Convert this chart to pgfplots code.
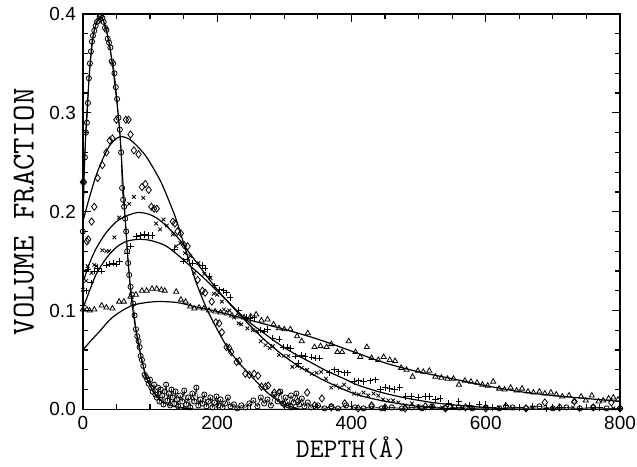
\documentclass[border=0pt]{standalone}
\usepackage{fontspec}
\setmainfont{Liberation Sans}
\usepackage{pgfplots}
\pgfplotsset{compat=1.18}

\begin{document}
\begin{tikzpicture}
\begin{axis}[
    scale only axis,
    width=269pt, height=198pt,
    xmin=0, xmax=800, ymin=0, ymax=0.4,
    xtick={0,200,400,600,800},
    ytick={0,0.1,0.2,0.3,0.4},
    minor x tick num=3, minor y tick num=4,
    tick align=inside,
    major tick length=4pt, minor tick length=2.5pt,
    axis line style={line width=0.8pt},
    every tick/.style={black, line width=0.6pt},
    /pgf/number format/assume math mode=true,
    yticklabel style={/pgf/number format/.cd, fixed, fixed zerofill, precision=1},
    tick label style={font=\fontsize{9.5}{11}\selectfont},
    xlabel={DEPTH(Å)},
    ylabel={VOLUME FRACTION},
    every axis x label/.style={at={(axis description cs:0.5,-0.098)}, anchor=center,
        font=\fontsize{13.5}{15}\selectfont\ttfamily},
    every axis y label/.style={at={(axis description cs:-0.11,0.5)}, rotate=90, anchor=center,
        font=\fontsize{16}{18}\selectfont\ttfamily},
]

% fitted profiles
\addplot[black, line width=0.6pt, smooth, tension=0.45] coordinates {
    (0,0.18) (2,0.24) (4,0.275) (6,0.3) (8,0.322) (10,0.342) (13,0.364) (16,0.38)
    (20,0.391) (25,0.397) (30,0.394) (35,0.384) (40,0.367) (45,0.344) (50,0.315)
    (54,0.288) (57,0.26) (60,0.225) (63,0.193) (66,0.163) (69,0.136) (72,0.115)
    (75,0.098) (79,0.08) (83,0.065) (88,0.049) (93,0.036) (100,0.024) (110,0.013)
    (120,0.007) (135,0.003) (160,0.001) (200,0) (800,0)
};
\addplot[black, line width=0.6pt, smooth, tension=0.5] coordinates {
    (0,0.19) (10,0.215) (20,0.237) (30,0.254) (40,0.267) (50,0.274) (58,0.276)
    (70,0.273) (80,0.267) (93,0.257) (105,0.244) (117,0.229) (130,0.208) (140,0.19)
    (156,0.155) (170,0.126) (185,0.101) (200,0.081) (214,0.064) (230,0.049)
    (253,0.032) (270,0.02) (282,0.013) (300,0.005) (320,0.001) (340,0) (800,0)
};
\addplot[black, line width=0.6pt, smooth, tension=0.5] coordinates {
    (0,0.128) (10,0.148) (20,0.163) (35,0.179) (54,0.192) (80,0.199) (100,0.197)
    (117,0.19) (141,0.174) (160,0.157) (180,0.139) (204,0.118) (243,0.089)
    (268,0.072) (292,0.058) (316,0.046) (341,0.036) (360,0.029) (389,0.02)
    (408,0.015) (430,0.011) (460,0.007) (500,0.003) (540,0.001) (600,0) (800,0)
};
\addplot[black, line width=0.6pt, smooth, tension=0.5] coordinates {
    (0,0.102) (10,0.12) (20,0.137) (35,0.153) (50,0.164) (65,0.17) (83,0.172)
    (100,0.171) (122,0.166) (140,0.157) (160,0.145) (180,0.133) (204,0.117)
    (243,0.091) (268,0.078) (292,0.066) (316,0.056) (341,0.047) (360,0.04)
    (389,0.031) (408,0.025) (440,0.018) (477,0.012) (520,0.007) (560,0.004)
    (600,0.002) (650,0) (800,0)
};
\addplot[black, line width=0.6pt, smooth, tension=0.5] coordinates {
    (0,0.06) (10,0.068) (25,0.079) (44,0.093) (73,0.105) (108,0.109) (141,0.108)
    (166,0.104) (200,0.099) (250,0.09) (300,0.081) (350,0.071) (400,0.059)
    (450,0.047) (500,0.038) (550,0.031) (600,0.024) (650,0.018) (700,0.014)
    (750,0.011) (800,0.008)
};

% circles
\addplot[black, line width=0.3pt, mark=o, mark size=1.3pt, mark options={solid, line width=0.4pt}] coordinates {
    (0,0.18) (1.5,0.23) (3,0.255) (4.5,0.28) (6,0.29) (7.5,0.31) (9,0.335) (10.5,0.35)
    (12,0.362) (13.5,0.372) (15,0.378) (17,0.383) (19,0.388) (21,0.392) (23,0.393)
    (25,0.397) (27,0.398) (29,0.396) (31,0.392) (33,0.386) (35,0.384) (37,0.375)
    (39,0.371) (41,0.366) (43,0.352) (45,0.35) (47,0.34) (49,0.326) (51,0.314)
    (53,0.295) (55,0.283) (57,0.26) (58.5,0.224) (60,0.212) (61.5,0.205) (63,0.193)
    (64.5,0.18) (66,0.16) (67.5,0.148) (69,0.136) (71,0.124) (73,0.116) (75,0.107)
    (77,0.095) (79,0.081) (81,0.074) (83,0.069) (84.5,0.063) (86,0.054) (88,0.05)
    (90,0.044) (92,0.035) (94,0.033) (96,0.03) (98,0.026) (100,0.03) (102,0.022)
    (104,0.018) (106,0.025) (108,0.015) (110,0.012) (112,0.022) (114,0.008)
    (116,0.02) (118,0.014) (120,0.005) (122,0.018) (124,0.025) (126,0.009)
    (128,0.016) (130,0.004) (132,0.02) (134,0.012) (136,0.006) (138,0.018)
    (140,0.01) (142,0.003) (145,0.014) (148,0.008) (151,0.019) (154,0.005)
    (157,0.012) (160,0.002) (163,0.016) (166,0.008) (169,0.022) (172,0.004)
    (175,0.01) (178,0.006) (181,0.015) (184,0.003) (187,0.008) (190,0.012)
    (193,0.002) (196,0.007) (199,0.013) (202,0.004) (205,0.01) (208,0.002)
    (212,0.006) (216,0.012) (220,0.003) (225,0.005) (230,0.001) (236,0.004)
    (242,0.002) (248,0.006) (254,0.009) (260,0.003) (265,0.012) (270,0.006)
    (275,0.01) (280,0.004) (285,0.015) (290,0.008) (294,0.018) (298,0.006)
    (302,0.012) (306,0.004) (310,0.014) (314,0.007) (318,0.016) (322,0.005)
    (326,0.011) (330,0.003) (335,0.007) (340,0.002) (350,0.004) (360,0.001)
    (370,0.003) (380,0.001) (392,0.004) (405,0.002) (418,0.001) (430,0.003)
    (445,0.001) (460,0.002) (475,0.001) (490,0.002) (505,0.001) (520,0.003)
    (540,0.001) (560,0.002) (580,0.001) (600,0.002) (620,0.001) (640,0.002)
    (660,0.001) (680,0.003) (700,0.001) (720,0.002) (740,0.001) (760,0.002)
    (780,0.001) (800,0.001)
};

% diamonds
\addplot[only marks, mark=diamond, mark size=1.8pt, mark options={black, line width=0.4pt}] coordinates {
    (0,0.23) (6,0.17) (8,0.172) (13,0.19) (17,0.205) (22,0.234) (29,0.247) (35,0.26)
    (40,0.272) (44,0.274) (50,0.293) (64,0.293) (68,0.293) (71,0.278) (76,0.262)
    (83,0.258) (88,0.225) (93,0.228) (98,0.222) (102,0.205) (106,0.203) (110,0.203)
    (134,0.19) (137,0.188) (141,0.18) (146,0.178) (151,0.166) (156,0.165)
    (171,0.131) (178,0.12) (182,0.118) (192,0.109) (198,0.088) (203,0.087)
    (207,0.078) (214,0.063) (218,0.062) (221,0.058) (229,0.048) (233,0.049)
    (242,0.036) (248,0.035) (255,0.036) (261,0.034) (266,0.023) (272,0.023)
    (276,0.024) (285,0.017) (292,0.017) (300,0.005) (310,0.003) (320,0.008)
    (334,0.017) (345,0.004) (356,0.011) (370,0.002) (390,0.006) (410,0.001)
    (430,0.004) (450,0.002) (480,0.001) (510,0.003) (540,0.001) (570,0.002)
    (600,0.001) (630,0.003) (660,0.001) (688,0.007) (710,0.002) (732,0.008)
    (760,0.002) (787,0.007) (800,0.001)
};

% crosses
\addplot[only marks, mark=x, mark size=1.3pt, mark options={black, line width=0.4pt}] coordinates {
    (0,0.121) (5,0.13) (7,0.145) (13,0.138) (17,0.146) (20,0.145) (29,0.161)
    (35,0.16) (39,0.16) (47,0.174) (54,0.194) (69,0.208) (76,0.215) (90,0.214)
    (109,0.188) (115,0.182) (120,0.192) (125,0.186) (134,0.177) (139,0.165)
    (145,0.168) (152,0.158) (160,0.155) (166,0.138) (172,0.148) (181,0.137)
    (190,0.133) (195,0.117) (200,0.116) (207,0.109) (210,0.101) (218,0.1)
    (225,0.093) (232,0.087) (236,0.086) (245,0.082) (253,0.08) (260,0.079)
    (265,0.069) (272,0.065) (278,0.062) (283,0.064) (292,0.055) (299,0.054)
    (306,0.054) (312,0.043) (319,0.044) (326,0.042) (334,0.04) (341,0.036)
    (348,0.037) (355,0.038) (362,0.031) (370,0.022) (377,0.024) (383,0.022)
    (389,0.025) (396,0.021) (404,0.016) (411,0.015) (418,0.017) (425,0.014)
    (433,0.016) (440,0.014) (447,0.01) (455,0.009) (462,0.009) (470,0.007)
    (480,0.004) (490,0.006) (500,0.003) (510,0.002) (520,0.004) (535,0.002)
    (550,0.003) (565,0.001) (580,0.002) (600,0.001) (620,0.002) (640,0.001)
    (670,0.002) (700,0.001) (730,0.002) (760,0.001) (790,0.001)
};

% plus signs
\addplot[only marks, mark=+, mark size=1.6pt, mark options={black, line width=0.4pt}] coordinates {
    (0,0.105) (5,0.12) (8,0.142) (12,0.128) (17,0.14) (22,0.143) (28,0.14)
    (35,0.146) (40,0.147) (45,0.148) (50,0.147) (55,0.15) (66,0.158) (71,0.165)
    (80,0.175) (86,0.176) (92,0.177) (98,0.176) (103,0.176) (137,0.162)
    (149,0.15) (155,0.152) (163,0.148) (178,0.146) (182,0.143) (188,0.135)
    (196,0.125) (204,0.121) (210,0.12) (214,0.118) (219,0.113) (232,0.1)
    (243,0.093) (249,0.092) (255,0.093) (265,0.08) (270,0.079) (275,0.081)
    (283,0.072) (292,0.071) (299,0.063) (304,0.063) (309,0.062) (316,0.054)
    (321,0.047) (326,0.055) (331,0.054) (341,0.053) (347,0.052) (353,0.052)
    (367,0.037) (375,0.04) (381,0.038) (389,0.037) (394,0.037) (404,0.028)
    (411,0.029) (418,0.028) (428,0.029) (436,0.03) (443,0.02) (450,0.022)
    (457,0.021) (464,0.02) (472,0.022) (481,0.013) (490,0.013) (500,0.012)
    (510,0.013) (516,0.013) (525,0.01) (532,0.011) (545,0.006) (560,0.008)
    (575,0.004) (590,0.005) (610,0.002) (630,0.004) (650,0.002) (670,0.003)
    (690,0.001) (710,0.002) (740,0.001) (770,0.002) (800,0.001)
};

% triangles
\addplot[only marks, mark=triangle, mark size=1.5pt, mark options={black, line width=0.4pt}] coordinates {
    (0,0.101) (6,0.101) (10,0.1) (17,0.101) (28,0.105) (35,0.103) (44,0.102)
    (54,0.109) (61,0.109) (71,0.114) (79,0.116) (88,0.12) (95,0.12) (103,0.122)
    (110,0.122) (117,0.121) (122,0.12) (139,0.119) (146,0.111) (153,0.109)
    (160,0.104) (166,0.102) (173,0.103) (180,0.102) (188,0.1) (197,0.099)
    (205,0.098) (214,0.097) (222,0.095) (230,0.094) (240,0.093) (250,0.094)
    (258,0.096) (266,0.09) (275,0.091) (284,0.086) (292,0.082) (300,0.081)
    (309,0.081) (319,0.074) (326,0.069) (335,0.077) (345,0.063) (354,0.064)
    (363,0.063) (370,0.066) (379,0.058) (386,0.058) (396,0.069) (406,0.058)
    (413,0.053) (423,0.063) (430,0.052) (440,0.05) (448,0.053) (457,0.05)
    (465,0.049) (474,0.042) (482,0.04) (491,0.033) (499,0.039) (507,0.038)
    (516,0.039) (525,0.033) (534,0.032) (543,0.031) (552,0.031) (560,0.025)
    (569,0.029) (578,0.028) (587,0.027) (595,0.025) (603,0.024) (611,0.028)
    (620,0.021) (628,0.02) (637,0.022) (646,0.019) (654,0.021) (663,0.018)
    (671,0.017) (680,0.018) (688,0.016) (697,0.017) (705,0.015) (714,0.013)
    (724,0.014) (732,0.008) (742,0.013) (749,0.009) (758,0.014) (768,0.008)
    (775,0.009) (783,0.011) (790,0.012) (797,0.01)
};
\end{axis}
\pgfresetboundingbox
\path ([xshift=-41.5pt,yshift=-28.5pt]current axis.south west)
    rectangle ([xshift=8.5pt,yshift=7pt]current axis.north east);
\end{tikzpicture}
\end{document}
